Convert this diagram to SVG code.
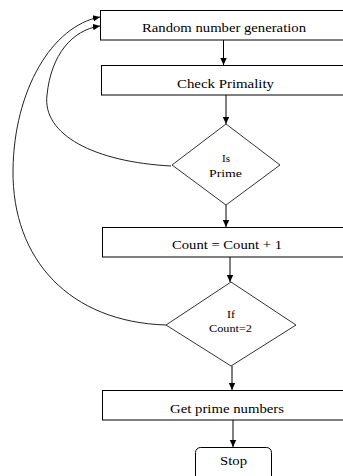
<svg xmlns="http://www.w3.org/2000/svg" width="343" height="476" viewBox="0 0 343 476">
  <defs>
    <style>
      .box { fill: #ffffff; stroke: #000000; stroke-width: 1; }
      .dia { fill: #ffffff; stroke: #333333; stroke-width: 1; }
      .t { font-family: "Liberation Serif", "Times New Roman", serif; font-size: 12px; fill: #000000; text-anchor: middle; }
      .ts { font-family: "Liberation Serif", "Times New Roman", serif; font-size: 11px; fill: #000000; text-anchor: middle; }
      .line { fill: none; stroke: #000000; stroke-width: 1; }
      .curve { fill: none; stroke: #222222; stroke-width: 1; }
    </style>
    <marker id="ah" markerWidth="8" markerHeight="8" refX="7" refY="4" orient="auto" markerUnits="userSpaceOnUse">
      <path d="M0,0.8 L7,4 L0,7.2 Z" fill="#000000"/>
    </marker>
  </defs>

  <g id="connectors">
    <line class="line" x1="223.5" y1="40" x2="223.5" y2="65" marker-end="url(#ah)"/>
    <line class="line" x1="226" y1="95" x2="226" y2="124" marker-end="url(#ah)"/>
    <line class="line" x1="226" y1="205" x2="226" y2="227" marker-end="url(#ah)"/>
    <line class="line" x1="230" y1="257" x2="230" y2="282" marker-end="url(#ah)"/>
    <line class="line" x1="232" y1="366" x2="232" y2="390" marker-end="url(#ah)"/>
    <line class="line" x1="233" y1="420" x2="233" y2="447" marker-end="url(#ah)"/>
    <path class="curve" d="M171,166 C 95,162 42,135 47,95 C 51,55 72,30 100,26" marker-end="url(#ah)"/>
    <path class="curve" d="M166,325 C 70,322 12,260 13,170 C 14,90 52,26 100,17" marker-end="url(#ah)"/>
  </g>

  <g id="n1">
    <rect class="box" x="100.5" y="10.5" width="250" height="29.5"/>
    <text class="t" x="224" y="32" textLength="164" lengthAdjust="spacingAndGlyphs">Random number generation</text>
  </g>
  <g id="n2">
    <rect class="box" x="101.5" y="65.5" width="250" height="29.5"/>
    <text class="t" x="225.5" y="87.5" textLength="97" lengthAdjust="spacingAndGlyphs">Check Primality</text>
  </g>
  <g id="n3">
    <polygon class="dia" points="226,124 280,165 226,205 172,165"/>
    <text class="ts" x="226" y="161.5" textLength="8" lengthAdjust="spacingAndGlyphs">Is</text>
    <text class="ts" x="225.5" y="176.5" textLength="33" lengthAdjust="spacingAndGlyphs">Prime</text>
  </g>
  <g id="n4">
    <rect class="box" x="102.5" y="227.5" width="250" height="29.5"/>
    <text class="t" x="227" y="249" textLength="110" lengthAdjust="spacingAndGlyphs">Count = Count + 1</text>
  </g>
  <g id="n5">
    <polygon class="dia" points="231,282 296,325 231,366 166,325"/>
    <text class="ts" x="231" y="318" textLength="8" lengthAdjust="spacingAndGlyphs">If</text>
    <text class="ts" x="230.5" y="331.5" font-size="10" style="font-size:10px" textLength="43" lengthAdjust="spacingAndGlyphs">Count=2</text>
  </g>
  <g id="n6">
    <rect class="box" x="102.5" y="390.5" width="250" height="29.5"/>
    <text class="t" x="227" y="412.5" textLength="114" lengthAdjust="spacingAndGlyphs">Get prime numbers</text>
  </g>
  <g id="n7">
    <rect class="box" x="195.5" y="447.5" width="76" height="40" rx="5" ry="5"/>
    <text class="t" x="233.5" y="465" textLength="27" lengthAdjust="spacingAndGlyphs">Stop</text>
  </g>
</svg>
